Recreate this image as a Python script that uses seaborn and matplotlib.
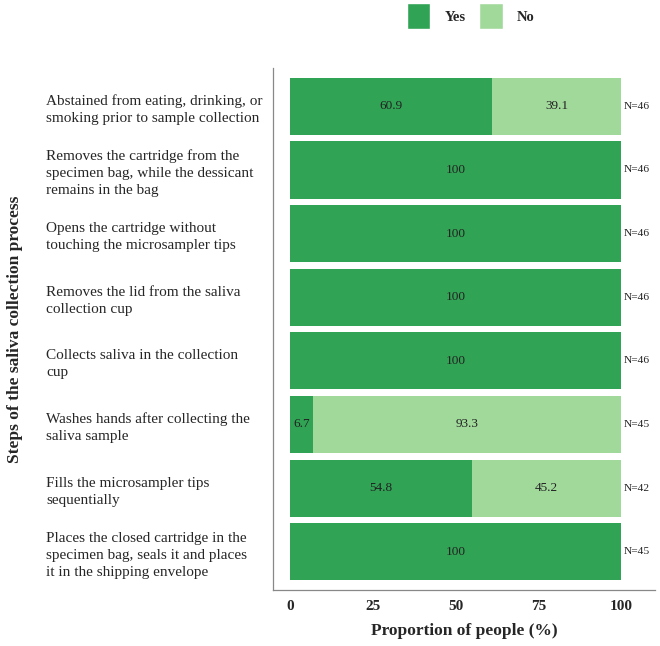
import pandas as pd
import matplotlib.pyplot as plt
from matplotlib.patches import Patch
import seaborn as sns

# data
steps = [
    "Abstained from eating, drinking, or\nsmoking prior to sample collection",
    "Removes the cartridge from the\nspecimen bag, while the dessicant\nremains in the bag",
    "Opens the cartridge without\ntouching the microsampler tips",
    "Removes the lid from the saliva\ncollection cup",
    "Collects saliva in the collection\ncup",
    "Washes hands after collecting the\nsaliva sample",
    "Fills the microsampler tips\nsequentially",
    "Places the closed cartridge in the\nspecimen bag, seals it and places\nit in the shipping envelope",
]
yes_pct = [60.9, 100, 100, 100, 100, 6.7, 54.8, 100]
no_pct = [39.1, 0, 0, 0, 0, 93.3, 45.2, 0]
n_resp = [46, 46, 46, 46, 46, 45, 42, 45]

YES_COL = '#31a354'
NO_COL = '#a1d99b'

df = pd.DataFrame({'step': steps, 'yes': yes_pct, 'no': no_pct, 'n': n_resp})
df['total'] = df['yes'] + df['no']

sns.set_style('white')
plt.rcParams['font.family'] = ['Liberation Serif', 'DejaVu Serif']

fig = plt.figure(figsize=(6.6, 6.46), dpi=100)
ax = fig.add_axes([273 / 660, 1 - 590 / 646, (655 - 273) / 660, (590 - 68) / 646])

# stacked bars: full length in "No" colour, then "Yes" on top
sns.barplot(data=df, y='step', x='total', color=NO_COL, orient='h',
            width=0.9, saturation=1, ax=ax, edgecolor='none')
sns.barplot(data=df, y='step', x='yes', color=YES_COL, orient='h',
            width=0.9, saturation=1, ax=ax, edgecolor='none')

for i, row in df.iterrows():
    if row['yes'] > 0:
        ax.text(row['yes'] / 2, i, f"{row['yes']:g}", ha='center', va='center',
                fontsize=9.5, color='#222222')
    if row['no'] > 0:
        ax.text(row['yes'] + row['no'] / 2, i, f"{row['no']:g}", ha='center',
                va='center', fontsize=9.5, color='#222222')
    ax.text(100.9, i, f"N={row['n']}", ha='left', va='center', fontsize=8.2,
            color='#222222')

ax.set_xlim(-5.25, 110.25)
ax.set_ylim(7.6, -0.6)
ax.set_xticks([0, 25, 50, 75, 100])
ax.set_xticklabels(['0', '25', '50', '75', '100'], fontweight='bold', fontsize=11)

for s in ['top', 'right']:
    ax.spines[s].set_visible(False)
for s in ['left', 'bottom']:
    ax.spines[s].set_color('#888888')
    ax.spines[s].set_linewidth(0.9)

ax.tick_params(axis='x', length=4, width=1.2, color='#333333', pad=3)
ax.tick_params(axis='y', length=4, width=1.2, color='#333333', pad=159.5,
               labelsize=11)
for lab in ax.get_yticklabels():
    lab.set_horizontalalignment('left')
    lab.set_linespacing(1.4)

ax.set_xlabel('Proportion of people (%)', fontsize=12.5, fontweight='bold')
ax.xaxis.set_label_coords(0.5, -0.063)
ax.set_ylabel('Steps of the saliva collection process', fontsize=12.5,
              fontweight='bold')
ax.yaxis.set_label_coords(-0.655, 0.5)

handles = [Patch(facecolor=YES_COL, label='Yes'), Patch(facecolor=NO_COL, label='No')]
leg = fig.legend(handles=handles, loc='center', bbox_to_anchor=(471 / 660, 1 - 16 / 646),
                 ncol=2, frameon=False, handlelength=1.6, handleheight=2.3,
                 columnspacing=0.9, handletextpad=1.0,
                 prop={'weight': 'bold', 'size': 10.5})

fig.savefig('out.png', dpi=100)
